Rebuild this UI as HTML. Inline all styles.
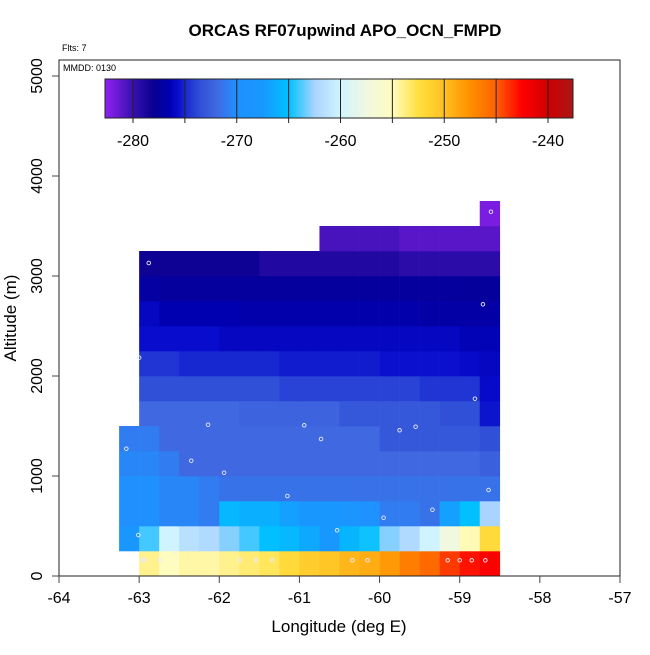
<!DOCTYPE html>
<html><head><meta charset="utf-8"><style>
body{margin:0;background:#fff;font-family:"Liberation Sans",sans-serif}
svg text{font-family:"Liberation Sans",sans-serif}
</style></head><body>
<svg id="chart" width="650" height="650" xmlns="http://www.w3.org/2000/svg">
<text x="345" y="36" font-size="17" font-weight="bold" text-anchor="middle">ORCAS RF07upwind APO_OCN_FMPD</text>
<text x="62" y="51" font-size="9">Flts: 7</text>
<g id="cells"></g>
<g id="pts"></g>
<rect x="59" y="60" width="561" height="516" fill="none" stroke="#222" stroke-width="1"/>
<text x="63" y="71" font-size="9">MMDD: 0130</text>
<g id="cbar"></g>
<g id="axes"></g>
<text x="339" y="632" font-size="17" text-anchor="middle">Longitude (deg E)</text>
<text x="16" y="318" font-size="17" text-anchor="middle" transform="rotate(-90 16 318)">Altitude (m)</text>
</svg>
<script>
const xTicks=[-64,-63,-62,-61,-60,-59,-58,-57];
const yTicks=[0,1000,2000,3000,4000,5000];
const cbTicks=[-280,-270,-260,-250,-240];
const rowStart=[1,0,0,0,0,0,1,1,1,1,1,1,1,10,18];
const row0=[-254,-255,-254.5,-254.5,-254,-253.5,-253,-252,-251,-250.5,-249.5,-249,-248,-246.5,-245.5,-244,-243,-242.5];
const row1=[-268,-264,-260,-261.5,-262,-263,-264,-265,-265.5,-266.5,-267.5,-265.7,-264.8,-263,-262,-260,-257.5,-254.8,-252];
const row2=[-270,-270,-270.5,-270.5,-271,-265.5,-266,-266,-267,-267.5,-267.5,-268.5,-269.5,-271,-271,-271.5,-267,-265,-262.5];
const row3=[-270,-270,-270.5,-270.5,-271,-271.5,-271.5,-271.5,-271.5,-271.5,-271.5,-271.5,-271.5,-271.5,-271.5,-271.5,-271.5,-271.5,-271.5];
const row4=[-270.5,-270.5,-271,-272,-272,-272,-272,-272,-272,-272,-272,-272,-272,-272,-272,-272,-272,-272,-272.5];
const row5=[-271,-271,-272,-272,-272,-272,-272,-272,-272,-272,-272,-272,-272,-273,-273,-273,-273,-273,-273.5];
const row6=[-272,-272,-272,-272,-272,-272.3,-272.3,-272.3,-272.3,-272.3,-273,-273,-273,-273,-273,-273.5,-273.5,-275.5];
const row7=[-273.5,-273.5,-273.5,-273.5,-273.5,-273.5,-273.5,-274,-274,-274,-274,-274,-274,-274,-274.5,-274.5,-274.5,-275.8];
const row8=[-274.5,-274.5,-275,-275,-275,-275,-275,-275.3,-275.3,-275.3,-275.3,-275.3,-275.6,-275.6,-275.6,-275.6,-275.8,-276];
const row9=[-275.7,-275.7,-275.7,-275.7,-276,-276,-276,-276,-276,-276,-276,-276,-276,-276,-276,-276,-276.3,-276.3];
const row10=[-276,-276.5,-276.5,-276.5,-276.5,-276.8,-276.8,-276.8,-276.8,-276.8,-276.8,-276.8,-276.8,-276.8,-277,-277,-277,-277];
const row11=[-277.2,-277.4,-277.4,-277.4,-277.4,-277.4,-277.4,-277.4,-277.4,-277.4,-277.4,-277.4,-277.4,-277.4,-277.4,-277.4,-277.5,-277.5];
const row12=[-278.2,-278.2,-278.2,-278.2,-278.2,-278.2,-279,-279,-279,-279,-279,-279,-279,-279.5,-279.5,-279.5,-279.5,-279.5];
const row13=[-280.5,-280.5,-280.5,-280.5,-281,-281,-281,-281,-281];
const row14=[-282];
const rows=[row0,row1,row2,row3,row4,row5,row6,row7,row8,row9,row10,row11,row12,row13,row14];
const ptLon=[-62.14,-60.94,-60.73,-59.75,-59.55,-63.16,-62.35,-61.94,-61.15,-58.64,-59.95,-59.34,-58.81,-63.01,-60.53,-62.55,-62.96,-62.93,-62.74,-61.74,-61.54,-61.34,-60.34,-60.15,-59.15,-59.0,-58.85,-58.68,-58.61,-62.88,-58.71,-63.0];
const ptAlt=[1513,1507,1370,1457,1493,1273,1153,1033,800,860,583,663,1773,410,457,253,157,157,157,157,157,157,157,157,157,157,157,157,3643,3130,2717,2183];

const X=v=>59+(v+64)*80.14;
const Y=v=>576-v*0.1;
const CB=v=>133+(v+280)*10.375;
const stops=[[-282.5,[138,32,236]],[-280,[56,16,176]],[-278,[8,0,144]],[-276.5,[0,0,176]],[-275.7,[8,12,204]],[-275,[24,40,208]],[-273.5,[48,80,216]],[-272,[64,104,224]],[-270,[32,144,255]],[-267.5,[24,152,255]],[-265,[0,192,255]],[-262.5,[168,212,255]],[-260,[208,244,255]],[-257.5,[240,248,224]],[-255,[255,252,192]],[-252.5,[255,224,64]],[-250,[255,192,32]],[-247.5,[255,144,0]],[-245,[255,96,0]],[-242.5,[255,0,0]],[-240,[208,0,0]],[-237.5,[168,24,24]]];
function col(v){
 if(v<=stops[0][0])return 'rgb('+stops[0][1]+')';
 for(let i=1;i<stops.length;i++){if(v<=stops[i][0]){const a=stops[i-1],b=stops[i],t=(v-a[0])/(b[0]-a[0]);
  return 'rgb('+a[1].map((c,k)=>Math.round(c+(b[1][k]-c)*t)).join(',')+')';}}
 return 'rgb('+stops[stops.length-1][1]+')';}
const NS='http://www.w3.org/2000/svg';
function mk(tag,at,parent){const e=document.createElementNS(NS,tag);for(const k in at)e.setAttribute(k,at[k]);parent.appendChild(e);return e;}
const cells=document.getElementById('cells');
rows.forEach((r,ri)=>{r.forEach((v,ci)=>{const lon=-63.25+0.25*(rowStart[ri]+ci);
 const e=mk('rect',{x:X(lon),y:Y((ri+1)*250),width:X(lon+0.25)-X(lon)+0.3,height:Y(ri*250)-Y((ri+1)*250)+0.3,fill:col(v)},cells);
 
 });});
const pts=document.getElementById('pts');
ptLon.forEach((lo,i)=>{const e=mk('circle',{cx:X(lo),cy:Y(ptAlt[i]),r:1.8,fill:'none',stroke:'#e8ecff','stroke-width':0.9},pts);
 
 });
const cb=document.getElementById('cbar');
for(let x=105;x<573;x+=1){const v=-280+(x+0.5-133)/10.375;mk('rect',{x:x,y:79,width:1.2,height:39,fill:col(v)},cb);}
mk('rect',{x:105,y:79,width:468,height:39,fill:'none',stroke:'#222','stroke-width':1},cb);
for(let v=-280;v<=-240;v+=5){mk('line',{x1:CB(v),x2:CB(v),y1:79,y2:123,stroke:'#222','stroke-width':1},cb);}
cbTicks.forEach(v=>{const t=mk('text',{x:CB(v),y:146,'font-size':16,'text-anchor':'middle'},cb);t.textContent=v;
 
 });
const ax=document.getElementById('axes');
xTicks.forEach(v=>{mk('line',{x1:X(v),x2:X(v),y1:576,y2:583,stroke:'#444'},ax);
 const t=mk('text',{x:X(v),y:603,'font-size':16,'text-anchor':'middle'},ax);t.textContent=v;
 
 });
yTicks.forEach(v=>{mk('line',{x1:52,x2:59,y1:Y(v),y2:Y(v),stroke:'#444'},ax);
 const t=mk('text',{x:42,y:Y(v),'font-size':16,'text-anchor':'middle',transform:'rotate(-90 42 '+Y(v)+')'},ax);t.textContent=v;
 
 });
</script>
</body></html>
